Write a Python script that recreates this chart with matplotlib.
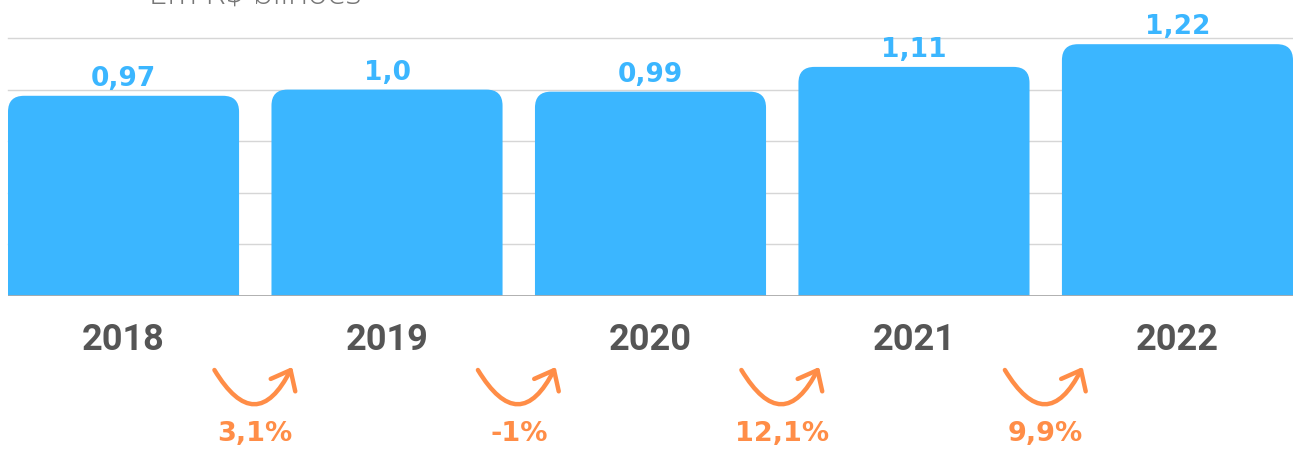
import matplotlib
matplotlib.use("Agg")
import matplotlib.pyplot as plt
from matplotlib.patches import FancyBboxPatch, FancyArrowPatch
from matplotlib.transforms import blended_transform_factory

years = ["2018", "2019", "2020", "2021", "2022"]
values = [0.97, 1.00, 0.99, 1.11, 1.22]
value_labels = ["0,97", "1,0", "0,99", "1,11", "1,22"]
growth_labels = ["3,1%", "-1%", "12,1%", "9,9%"]
subtitle = "Em R$ bilhões"

BLUE = "#3BB6FF"
ORANGE = "#FF8D47"
GRAY = "#555555"
GRID = "#D6D6D6"

W, H = 1293, 452
fig = plt.figure(figsize=(W / 100, H / 100), dpi=100)
left_px, right_px, base_px, top_px = 8, 1293, 297, 39
ax = fig.add_axes([left_px / W, (H - base_px) / H, (right_px - left_px) / W, (base_px - top_px) / H])

bw = 0.877
xs = list(range(len(years)))
ax.set_xlim(-bw / 2, len(years) - 1 + bw / 2)
ax.set_ylim(0, 1.25)

bars = ax.bar(xs, values, width=bw, color=BLUE)
xpx = (right_px - left_px) / (len(years) - 1 + bw)
ypx = (base_px - top_px) / 1.25
r_px = 16
for b in bars:
    b.set_visible(False)
    x0 = b.get_x()
    h = b.get_height()
    p = FancyBboxPatch((x0, -0.2), b.get_width(), h + 0.2,
                       boxstyle=f"round,pad=0,rounding_size={r_px / xpx}",
                       mutation_aspect=xpx / ypx,
                       facecolor=BLUE, edgecolor="none", zorder=2)
    ax.add_patch(p)

for y in [0.25, 0.5, 0.75, 1.0, 1.25]:
    ax.axhline(y, color=GRID, lw=1.0, zorder=1, clip_on=False)
ax.axhline(0, color="#AAAAAA", lw=1.3, zorder=3)

for s in ax.spines.values():
    s.set_visible(False)
ax.set_xticks([])
ax.set_yticks([])

for x, v, lab in zip(xs, values, value_labels):
    ax.annotate(lab, (x, v), xytext=(0, 5), textcoords="offset pixels",
                ha="center", va="bottom", fontsize=19, fontweight="bold",
                color=BLUE, family="DejaVu Sans", zorder=4)

tb = blended_transform_factory(ax.transData, fig.transFigure)
for x, yr in zip(xs, years):
    ax.text(x, 1 - 340 / H, yr, transform=tb, ha="center", va="center",
            fontsize=26, fontweight="bold", color=GRAY, family="Roboto",
            clip_on=False)

for i, g in enumerate(growth_labels):
    xm = i + 0.5
    ax.text(xm, 1 - 434 / H, g, transform=tb, ha="center", va="center",
            fontsize=19.5, fontweight="bold", color=ORANGE, family="DejaVu Sans",
            clip_on=False)
    arr = FancyArrowPatch((xm - 0.155, 1 - 371 / H), (xm + 0.14, 1 - 368 / H),
                          transform=tb, connectionstyle="arc3,rad=0.9",
                          arrowstyle="->,head_length=0.55,head_width=0.45",
                          mutation_scale=22, color=ORANGE, lw=3.2,
                          shrinkA=0, shrinkB=0, clip_on=False,
                          capstyle="round", joinstyle="round")
    fig.add_artist(arr)

fig.text(255 / W, 1 - (-5) / H, subtitle, ha="center", va="center",
         fontsize=24, color="#777777", family="Open Sans", fontweight="light")

fig.savefig("out.png", dpi=100)
